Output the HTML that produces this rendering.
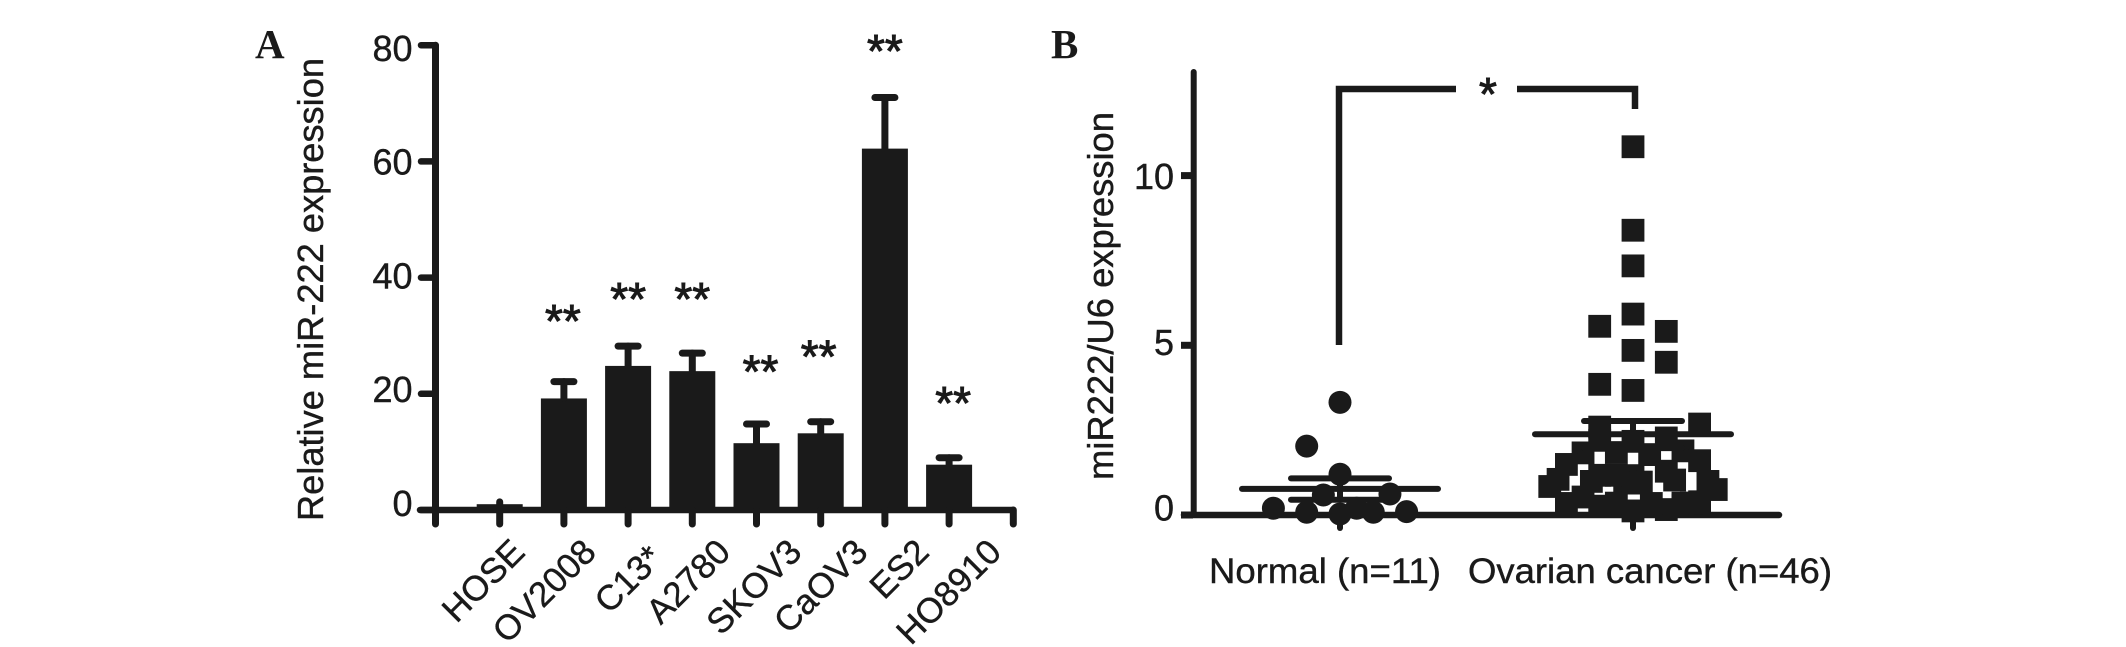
<!DOCTYPE html>
<html lang="en">
<head>
<meta charset="utf-8">
<title>miR-222 expression charts</title>
<style>
html,body{margin:0;padding:0;background:#fff;}
body{width:2126px;height:647px;overflow:hidden;}
svg{display:block;}
text{font-family:"Liberation Sans",Arial,sans-serif;fill:#1a1a1a;stroke:#1a1a1a;stroke-width:.4px;}
.letter{font-family:"Liberation Serif","Times New Roman",serif;font-weight:bold;font-size:41px;stroke:none;}
.star{stroke-width:1px;}
</style>
</head>
<body>
<svg id="chart" xmlns="http://www.w3.org/2000/svg" width="2126" height="647" viewBox="0 0 2126 647">
  <text class="letter" x="255" y="58">A</text>
  <text class="letter" x="1051" y="58">B</text>
  <text transform="translate(323,521) rotate(-90)" font-size="36" textLength="463" lengthAdjust="spacingAndGlyphs">Relative miR-222 expression</text>
  <text transform="translate(1113,480) rotate(-90)" font-size="36" textLength="368" lengthAdjust="spacingAndGlyphs">miR222/U6 expression</text>
  <text x="1209" y="583" font-size="35" textLength="232" lengthAdjust="spacingAndGlyphs">Normal (n=11)</text>
  <text x="1468" y="583" font-size="35" textLength="364" lengthAdjust="spacingAndGlyphs">Ovarian cancer (n=46)</text>
  <g id="panelA"></g>
  <g id="panelB"></g>
</svg>
<script>
/* Panel A data */
var cellLines = ['HOSE','OV2008','C13*','A2780','SKOV3','CaOV3','ES2','HO8910'];
var barValues = [1, 19.2, 24.8, 23.9, 11.5, 13.2, 62.2, 7.8];
var barErrorTops = [1.4, 22.1, 28.2, 27, 14.8, 15.2, 71, 9];
var starLevels = [null, 33.4, 37.2, 37.2, 24.7, 27.3, 79.9, 19.3];
var starNudge = [0, -1, 0, 0, 4, -2, 0, 4];
var labelNudge = [27, 34, 36, 40, 47, 49, 46, 54];
var yTicksA = [0, 20, 40, 60, 80];

/* Panel B data */
var normalValues = [3.32, 2.03, 1.2, 0.59, 0.62, 0.2, 0.08, 0.03, 0.2, 0.08, 0.1];
var normalSlots = [0, -1, 0, -0.5, 1.5, -2, -1, 0, 0.5, 1, 2];
var ovarianValues = [10.85, 8.39, 7.34, 5.92, 5.56, 5.41, 4.85, 4.5, 3.85, 3.67,
  2.59, 2.68, 2.27, 2.17, 2.2, 1.83, 1.84, 1.78, 1.89, 1.49, 1.6, 1.17, 1.16, 1.29,
  1.05, 0.99, 0.75, 0.84, 0.99, 1.03, 0.35, 0.39, 0.34, 0.53, 0.99, 0.94, 0.97,
  0.35, 0.26, 0.12, 0.16, 0.34, 0.35, 1.17, 0.29, 0.34];
var ovarianSlots = [0, 0, 0, 0, -1, 1, 0, 1, -1, 0,
  -1, 2, 1, 0, -1, -1.5, -0.5, 0.5, 1.5, -2, 2, -1, 0, 1,
  -2.25, 2.25, 2.5, -2.5, -1.25, 1.25, 1.75, 2, -2, -1.5, -0.25, 0, 0.25,
  -0.5, -1, 0, 1, 0.55, 1.5, -0.5, 1.5, 2];
var normalStats = [0.77, 1.08, 0.45];
var ovarianStats = [2.38, 2.77, 1.97];
var yTicksB = [0, 5, 10];

var SVGNS = 'http://www.w3.org/2000/svg';
var INK = '#1a1a1a';
var panelA = document.getElementById('panelA');
var panelB = document.getElementById('panelB');

function make(parent, tag, attrs, txt) {
  var el = document.createElementNS(SVGNS, tag);
  for (var k in attrs) el.setAttribute(k, attrs[k]);
  if (txt !== undefined) el.textContent = txt;
  parent.appendChild(el);
  return el;
}
function stroke(parent, x1, y1, x2, y2, w, cap) {
  return make(parent, 'line', {x1: x1, y1: y1, x2: x2, y2: y2, stroke: INK, 'stroke-width': w, 'stroke-linecap': cap || 'round'});
}

/* Panel A scales */
function yA(v) { return 510 - v * 5.81; }
function labelYA(v) { return 516 - v * 5.69; }
function xA(i) { return 435.5 + i * 64.2; }

/* Panel A axes */
var axisYA = stroke(panelA, xA(0), yA(80), xA(0), 510, 7);


var axisXA = stroke(panelA, 420, 510, xA(9), 510, 6.5);


stroke(panelA, xA(9), 510, xA(9), 524, 7);
stroke(panelA, xA(0), 510, xA(0), 524, 7);

yTicksA.forEach(function (v) {
  var t = stroke(panelA, 421, yA(v), xA(0), yA(v), 6.5);
  
  
  var l = make(panelA, 'text', {x: 412.5, y: labelYA(v), 'font-size': 36, 'text-anchor': 'end'}, String(v));
  
  
});

/* Panel A bars */
cellLines.forEach(function (name, i) {
  var cx = xA(i + 1);
  var bar = make(panelA, 'rect', {x: cx - 23, y: yA(barValues[i]), width: 46, height: 510 - yA(barValues[i]), fill: INK});
  
  

  var err = stroke(panelA, cx, yA(barValues[i]), cx, yA(barErrorTops[i]), 7);
  
  
  if (i > 0) {
    var cap = stroke(panelA, cx - 10, yA(barErrorTops[i]), cx + 10, yA(barErrorTops[i]), 7);
    
    
  }

  var tick = stroke(panelA, cx, 510, cx, 524, 7);
  
  

  var px = cx + labelNudge[i];
  var lab = make(panelA, 'text', {'font-size': 35, 'text-anchor': 'end', transform: 'translate(' + px + ',' + (name === 'C13*' ? 560 : 554) + ') rotate(-45)'}, name);
  
  

  if (starLevels[i] !== null) {
    var st = make(panelA, 'text', {x: cx + starNudge[i], y: yA(starLevels[i]) + 21, 'font-size': 46, 'text-anchor': 'middle', 'class': 'star'}, '**');
    
    
  }
});

/* Panel B scales */
function yB(v) { return 515 - v * 33.94; }
function labelYB(v) { return 520.5 - v * 33.15; }
var normalX = 1340, ovarianX = 1633, slotWidth = 33.3;

/* Panel B axes */
var axisYB = stroke(panelB, 1193.7, 72, 1193.7, 515, 6);


var axisXB = stroke(panelB, 1184, 515, 1779, 515, 6.5);



yTicksB.forEach(function (v) {
  var t = stroke(panelB, 1181, yB(v), 1193, yB(v), 7, 'butt');
  
  
  var l = make(panelB, 'text', {x: 1174, y: labelYB(v), 'font-size': 36, 'text-anchor': 'end'}, String(v));
  
  
});

[normalX, ovarianX].forEach(function (x) {
  var t = stroke(panelB, x, 515, x, 528, 6);
  
  
});

/* Significance bracket */
var bracketLeft = make(panelB, 'polyline', {points: '1339,345 1339,89 1456,89', fill: 'none', stroke: INK, 'stroke-width': 6.5});


var bracketRight = make(panelB, 'polyline', {points: '1517,89 1635,89 1635,109', fill: 'none', stroke: INK, 'stroke-width': 6.5});


var bracketStar = make(panelB, 'text', {x: 1488, y: 110, 'font-size': 46, 'text-anchor': 'middle', 'class': 'star'}, '*');



/* Panel B points */
normalValues.forEach(function (v, i) {
  var c = make(panelB, 'circle', {cx: normalX + normalSlots[i] * slotWidth, cy: yB(v), r: 11.5, fill: INK});
  
  
});
ovarianValues.forEach(function (v, i) {
  var s = make(panelB, 'rect', {x: ovarianX + ovarianSlots[i] * slotWidth - 11.4, y: yB(v) - 11.4, width: 22.8, height: 22.8, fill: INK});
  
  
});

/* Mean and SEM lines */
function statLines(cx, stats, prefix) {
  var mean = stroke(panelB, cx - 98, yB(stats[0]), cx + 98, yB(stats[0]), 6);
  
  
  var up = stroke(panelB, cx - 49, yB(stats[1]), cx + 49, yB(stats[1]), 6);
  
  
  var lo = stroke(panelB, cx - 49, yB(stats[2]), cx + 49, yB(stats[2]), 6);
  
  
  var v = stroke(panelB, cx, yB(stats[1]), cx, yB(stats[2]), 6, 'butt');
  
  
}
statLines(normalX, normalStats, 'normal');
statLines(ovarianX, ovarianStats, 'ovarian');
</script>
</body>
</html>
